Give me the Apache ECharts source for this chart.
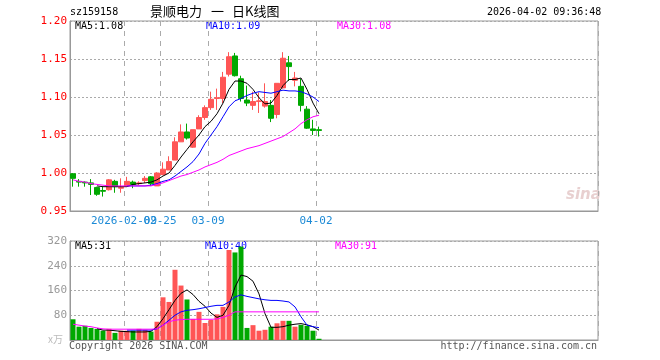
<!DOCTYPE html>
<html><head><meta charset="utf-8">
<script src="https://cdn.jsdelivr.net/npm/echarts@6/dist/echarts.min.js"></script>
<style>html,body{margin:0;padding:0;background:#fff}#c{width:660px;height:360px}</style>
</head><body><div id="c"></div>
<script>
const dates = ['2026-01-27','2026-01-28','2026-01-29','2026-01-30','2026-02-02','2026-02-03','2026-02-04','2026-02-05','2026-02-06','2026-02-09','2026-02-10','2026-02-11','2026-02-12','2026-02-13','2026-02-24','2026-02-25','2026-02-26','2026-02-27','2026-03-02','2026-03-03','2026-03-04','2026-03-05','2026-03-06','2026-03-09','2026-03-10','2026-03-11','2026-03-12','2026-03-13','2026-03-16','2026-03-17','2026-03-18','2026-03-19','2026-03-20','2026-03-23','2026-03-24','2026-03-25','2026-03-26','2026-03-27','2026-03-30','2026-03-31','2026-04-01','2026-04-02'];
const opens  = [0.999,0.989,0.988,0.987,0.981,0.977,0.978,0.989,0.980,0.983,0.988,0.986,0.990,0.995,0.983,0.998,1.004,1.017,1.041,1.054,1.034,1.058,1.073,1.086,1.098,1.098,1.130,1.154,1.124,1.096,1.089,1.094,1.088,1.089,1.077,1.112,1.145,1.122,1.114,1.084,1.058,1.057];
const closes = [0.993,0.988,0.987,0.985,0.972,0.976,0.991,0.982,0.981,0.989,0.985,0.987,0.993,0.986,1.000,1.005,1.015,1.041,1.054,1.046,1.057,1.073,1.086,1.097,1.099,1.126,1.153,1.128,1.098,1.092,1.094,1.095,1.094,1.072,1.118,1.151,1.140,1.125,1.089,1.059,1.056,1.056];
const lows   = [0.982,0.982,0.982,0.971,0.970,0.969,0.977,0.974,0.974,0.983,0.980,0.984,0.987,0.983,0.983,0.997,1.004,1.017,1.041,1.044,1.033,1.058,1.070,1.083,1.083,1.092,1.127,1.127,1.094,1.088,1.083,1.079,1.086,1.067,1.072,1.111,1.121,1.114,1.081,1.058,1.050,1.048];
const highs  = [1.000,0.992,0.989,0.992,0.982,0.982,0.992,0.991,0.993,0.995,0.990,0.989,0.996,0.996,1.001,1.014,1.022,1.047,1.064,1.065,1.057,1.076,1.089,1.107,1.111,1.133,1.159,1.158,1.128,1.115,1.107,1.106,1.118,1.096,1.118,1.159,1.154,1.133,1.124,1.088,1.070,1.061];
const volumes = [67,43,46,39,36,30,36,23,30,30,30,36,33,27,59,138,123,227,176,131,68,91,55,65,83,107,291,283,302,39,48,30,33,43,54,62,62,43,49,46,30,4];

const priceMA5  = [null,null,null,null,0.983,0.982,0.982,0.982,0.982,0.982,0.985,0.986,0.987,0.988,0.991,0.996,1.000,1.010,1.021,1.031,1.041,1.050,1.061,1.068,1.078,1.092,1.110,1.121,1.121,1.118,1.110,1.099,1.091,1.092,1.102,1.115,1.123,1.123,1.125,1.110,1.092,1.078];
const priceMA10 = [null,null,null,null,null,null,null,null,null,0.983,0.983,0.983,0.983,0.984,0.986,0.989,0.991,0.996,1.002,1.008,1.015,1.025,1.039,1.050,1.061,1.074,1.087,1.095,1.098,1.102,1.105,1.107,1.106,1.105,1.107,1.109,1.108,1.108,1.107,1.104,1.100,1.094];
const priceMA30 = [0.991,0.989,0.988,0.986,0.985,0.984,0.983,0.983,0.983,0.983,0.983,0.983,0.983,0.983,0.985,0.987,0.990,0.993,0.996,0.998,1.001,1.004,1.008,1.011,1.014,1.018,1.023,1.026,1.029,1.032,1.034,1.036,1.039,1.042,1.045,1.048,1.053,1.058,1.065,1.070,1.074,1.076];
const volMA5  = [null,null,null,null,37,32,32,30,28,27,26,26,26,28,43,69,98,128,151,162,147,125,109,87,73,80,112,171,210,205,190,149,85,41,41,43,48,51,53,49,43,32];
const volMA10 = [null,null,null,null,null,null,null,null,null,32,32,32,32,32,36,48,64,80,91,96,98,101,105,109,112,112,123,139,146,141,137,133,130,128,128,126,123,107,75,48,43,40];
const volMA30 = [51,48,45,43,39,36,35,35,35,35,35,35,35,35,36,48,59,64,66,67,67,67,67,67,68,73,80,91,91,91,91,91,91,91,91,91,91,91,91,91,91,91];

const priceLegend = ['MA5:1.08', 'MA10:1.09', 'MA30:1.08'];
const volLegend = ['MA5:31', 'MA10:40', 'MA30:91'];

const priceTicks = {min: 0.95, max: 1.20, step: 0.05};
const volTicks = {min: 0, max: 320, step: 80};
const totalSlots = 88;
const markedDates = ['2026-02-09','2026-02-25','2026-03-09','2026-04-02'];

const RED = '#ff5555', GREEN = '#00a800';
const MONO = 'DejaVu Sans Mono';

const cats = dates.concat(Array.from({length: totalSlots - dates.length}, (_, k) => 'pad' + k));
const markedIdx = markedDates.map(d => dates.indexOf(d));
const isMarked = (i) => markedIdx.indexOf(i) >= 0;
const candleData = dates.map((d, i) => [opens[i], closes[i], lows[i], highs[i]]);
const volData = volumes.map((v, i) => ({value: v, itemStyle: {color: closes[i] >= opens[i] ? RED : GREEN}}));

const chart = echarts.init(document.getElementById('c'), null, {renderer: 'canvas'});

function xAxisBase(gi, labelFilter, showGrid) {
  return {
    type: 'category', gridIndex: gi, data: cats, boundaryGap: true, position: 'bottom', offset: 0,
    axisLine: {show: showGrid, onZero: false, lineStyle: {color: '#999', width: 1}},
    axisTick: {show: false},
    axisLabel: {
      show: !!labelFilter, interval: (i) => !!labelFilter && labelFilter(i), hideOverlap: false,
      color: '#1c8ad6', fontFamily: MONO, fontSize: 11,
      margin: 5, padding: [0, 6, 0, 0],
      formatter: (v, i) => (i === markedIdx[0] ? v : v.slice(5))
    },
    splitLine: {show: showGrid, interval: (i) => isMarked(i), lineStyle: {color: '#aaa', type: [5, 5], width: 1}}
  };
}

const option = {
  animation: false,
  backgroundColor: '#fff',
  grid: [
    {left: 70, top: 21, width: 528, height: 190, show: true, borderColor: '#999', borderWidth: 1, backgroundColor: 'transparent'},
    {left: 70, top: 241, width: 528, height: 99, show: true, borderColor: '#999', borderWidth: 1, backgroundColor: 'transparent'}
  ],
  xAxis: [
    xAxisBase(0, (i) => isMarked(i) && i !== markedIdx[0], true),
    xAxisBase(1, null, true),
    xAxisBase(0, (i) => i === markedIdx[0], false)
  ],
  yAxis: [
    {type: 'value', gridIndex: 0, min: priceTicks.min, max: priceTicks.max, interval: priceTicks.step,
      axisLine: {show: true, lineStyle: {color: '#999'}}, axisTick: {show: false},
      axisLabel: {color: '#ff0000', fontFamily: MONO, fontSize: 11, margin: 3, formatter: v => v.toFixed(2)},
      splitLine: {show: true, lineStyle: {color: '#aaa', type: [2, 2]}}},
    {type: 'value', gridIndex: 1, min: volTicks.min, max: volTicks.max, interval: volTicks.step,
      axisLine: {show: true, lineStyle: {color: '#999'}}, axisTick: {show: false},
      axisLabel: {color: '#999', fontFamily: MONO, fontSize: 11, margin: 3, formatter: v => (v === 0 ? '' : String(v))},
      splitLine: {show: true, lineStyle: {color: '#aaa', type: [2, 2]}}}
  ],
  series: [
    {type: 'candlestick', xAxisIndex: 0, yAxisIndex: 0, data: candleData, barWidth: 5,
      itemStyle: {color: RED, color0: GREEN, borderColor: RED, borderColor0: GREEN, borderWidth: 1}},
    {type: 'line', xAxisIndex: 0, yAxisIndex: 0, data: priceMA5, symbol: 'none', lineStyle: {color: '#000', width: 1}},
    {type: 'line', xAxisIndex: 0, yAxisIndex: 0, data: priceMA10, symbol: 'none', lineStyle: {color: '#0000ff', width: 1}},
    {type: 'line', xAxisIndex: 0, yAxisIndex: 0, data: priceMA30, symbol: 'none', lineStyle: {color: '#ff00ff', width: 1}},
    {type: 'bar', xAxisIndex: 1, yAxisIndex: 1, data: volData, barWidth: 5},
    {type: 'line', xAxisIndex: 1, yAxisIndex: 1, data: volMA5, symbol: 'none', lineStyle: {color: '#000', width: 1}},
    {type: 'line', xAxisIndex: 1, yAxisIndex: 1, data: volMA10, symbol: 'none', lineStyle: {color: '#0000ff', width: 1}},
    {type: 'line', xAxisIndex: 1, yAxisIndex: 1, data: volMA30, symbol: 'none', lineStyle: {color: '#ff00ff', width: 1}}
  ],
  graphic: [
    {type: 'text', left: 70, top: 7, style: {text: 'sz159158', font: '10px "DejaVu Sans Mono"', fill: '#000'}},
    {type: 'text', left: 150, top: 5, style: {text: '景顺电力', font: '13px "Noto Sans CJK SC"', fill: '#000'}},
    {type: 'text', left: 211, top: 5, style: {text: '一', font: '13px "Noto Sans CJK SC"', fill: '#000'}},
    {type: 'text', left: 232, top: 5, style: {text: '日K线图', font: '13px "Noto Sans CJK SC"', fill: '#000'}},
    {type: 'text', left: 487, top: 7, style: {text: '2026-04-02 09:36:48', font: '10px "DejaVu Sans Mono"', fill: '#000'}},
    {type: 'text', left: 75, top: 21, style: {text: priceLegend[0], font: '10px "DejaVu Sans Mono"', fill: '#000'}},
    {type: 'text', left: 206, top: 21, style: {text: priceLegend[1], font: '10px "DejaVu Sans Mono"', fill: '#0000ff'}},
    {type: 'text', left: 337, top: 21, style: {text: priceLegend[2], font: '10px "DejaVu Sans Mono"', fill: '#ff00ff'}},
    {type: 'text', left: 75, top: 241, style: {text: volLegend[0], font: '10px "DejaVu Sans Mono"', fill: '#000'}},
    {type: 'text', left: 205, top: 241, style: {text: volLegend[1], font: '10px "DejaVu Sans Mono"', fill: '#0000ff'}},
    {type: 'text', left: 335, top: 241, style: {text: volLegend[2], font: '10px "DejaVu Sans Mono"', fill: '#ff00ff'}},
    {type: 'text', left: 48, top: 334, style: {text: 'x万', font: '10px "Noto Sans CJK SC"', fill: '#bbb'}},
    {type: 'text', left: 69, top: 341, style: {text: 'Copyright 2026 SINA.COM', font: '10px "DejaVu Sans Mono"', fill: '#555'}},
    {type: 'text', right: 63, top: 341, style: {text: 'http://finance.sina.com.cn', font: '10px "DejaVu Sans Mono"', fill: '#555'}},
    {type: 'text', left: 566, top: 188, style: {text: 'sina', font: 'italic bold 15px "DejaVu Sans"', fill: '#e8d0d0'}}
  ]
};
chart.setOption(option);
</script></body></html>
